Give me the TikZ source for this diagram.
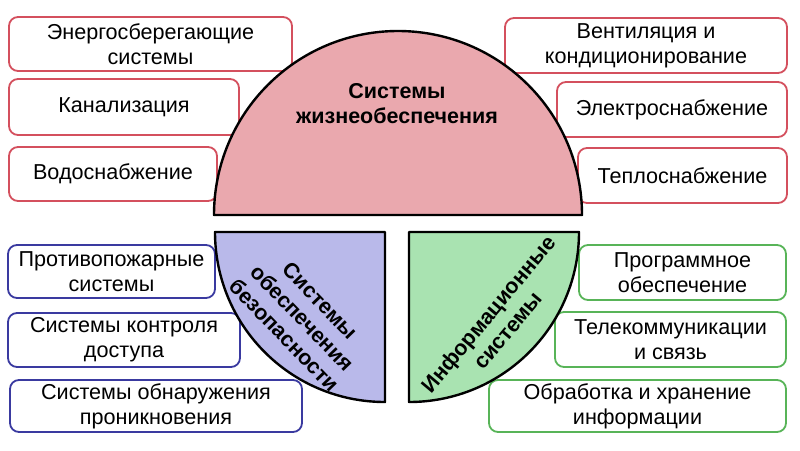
\documentclass[tikz,border=0pt]{standalone}
\usepackage{fontspec}
\setmainfont{Liberation Sans}

\definecolor{lifefill}{HTML}{EAA8AE}
\definecolor{safefill}{HTML}{B9B9EA}
\definecolor{infofill}{HTML}{A9E3B1}
\definecolor{boxred}{HTML}{D4505E}
\definecolor{boxblue}{HTML}{3A3AA0}
\definecolor{boxgreen}{HTML}{58B458}

\begin{document}
\begin{tikzpicture}[x=1pt, y=-1pt,
  box/.style={rectangle, rounded corners=9pt, line width=1.8pt,
              fill=white, align=center, inner sep=0pt,
              font=\fontsize{21.6}{25}\selectfont},
  redbox/.style={box, draw=boxred},
  bluebox/.style={box, draw=boxblue},
  greenbox/.style={box, draw=boxgreen},
  sector/.style={draw=black, line width=2.4pt, line join=round},
  title/.style={align=center, font=\bfseries\fontsize{21.5}{25}\selectfont}
]
\useasboundingbox (0,0) rectangle (800,450);

% life support boxes
\node[redbox, minimum width=283, minimum height=54] (energy) at (150.5,44)
  {Энергосберегающие\\системы};
\node[redbox, minimum width=230, minimum height=56] (sewer) at (124,107) {Канализация};
\node[redbox, minimum width=208, minimum height=54] (water) at (113,174) {Водоснабжение};
\node[redbox, minimum width=282, minimum height=55] (vent) at (646,45.5)
  {Вентиляция и\\кондиционирование};
\node[redbox, minimum width=230, minimum height=55] (power) at (672,109.5) {Электроснабжение};
\node[redbox, minimum width=209, minimum height=55] (heat) at (682.5,175.5) {Теплоснабжение};

% safety boxes
\node[bluebox, minimum width=207, minimum height=53] (fire) at (111.5,271.5)
  {Противопожарные\\системы};
\node[bluebox, minimum width=232, minimum height=54] (access) at (124,340)
  {Системы контроля\\доступа};
\node[bluebox, minimum width=292, minimum height=52] (intrude) at (156,406)
  {Системы обнаружения\\проникновения};

% information boxes
\node[greenbox, minimum width=207, minimum height=55] (soft) at (682.5,272.5)
  {Программное\\обеспечение};
\node[greenbox, minimum width=231, minimum height=55] (telecom) at (670.5,339.5)
  {Телекоммуникации\\и связь};
\node[greenbox, minimum width=297, minimum height=52] (store) at (637.5,406)
  {Обработка и хранение\\информации};

% sectors
\draw[sector, fill=lifefill] (214,215) arc[start angle=180, end angle=360, radius=184] -- cycle;
\draw[sector, fill=safefill] (385,232) -- (215,232)
  arc[start angle=180, end angle=90, radius=170] -- cycle;
\draw[sector, fill=infofill] (409,232) -- (579,232)
  arc[start angle=0, end angle=90, radius=170] -- cycle;

\node[title] (life) at (397,104) {Системы\\жизнеобеспечения};
\node[title, rotate=-46] (safety) at (302,318) {Системы\\обеспечения\\безопасности};
\node[title, rotate=50] (info) at (498,322) {Информационные\\системы};
\end{tikzpicture}
\end{document}
